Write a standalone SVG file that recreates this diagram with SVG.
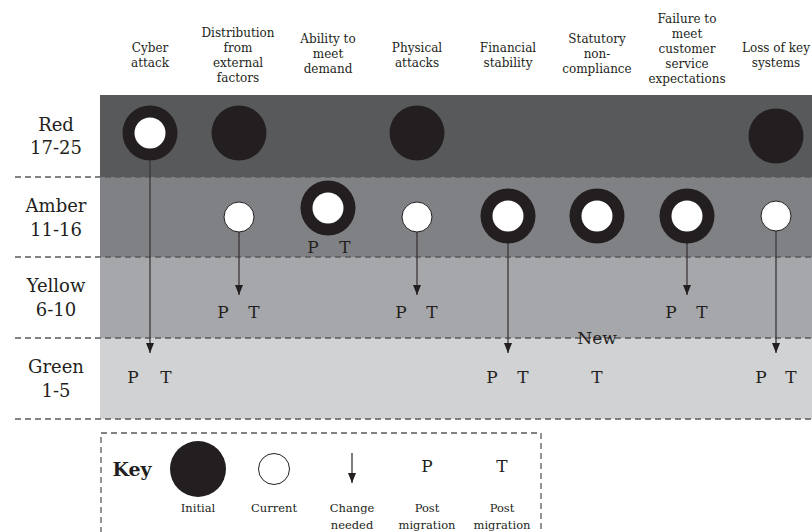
<svg xmlns="http://www.w3.org/2000/svg" width="812" height="532" viewBox="0 0 812 532">
<defs>
<style>
text{font-family:"DejaVu Serif","Liberation Serif",serif;fill:#231f20;text-anchor:middle}
.h{font-size:12px}
.row{font-size:18px}
.pt{font-size:17px}
.k{font-size:11.5px}
.dash{stroke:#58595b;stroke-width:1.3;stroke-dasharray:6 4;fill:none}
.ink{fill:#231f20}
.cur{fill:#fff;stroke:#231f20;stroke-width:1}
.hole{fill:#fff}
.conn{stroke:#3a3738;stroke-width:1.3;fill:none}
</style>
<marker id="ah" viewBox="0 0 10 8" refX="10" refY="4" markerWidth="10" markerHeight="8" markerUnits="userSpaceOnUse" orient="auto">
<path d="M0,0 L10,4 L0,8 Z" fill="#231f20"/>
</marker>
</defs>
<rect width="812" height="532" fill="#fff"/>
<g id="bands">
<rect x="100" y="95" width="712" height="82" fill="#58595b"/>
<rect x="100" y="177" width="712" height="80" fill="#808184"/>
<rect x="100" y="257" width="712" height="81" fill="#a6a7aa"/>
<rect x="100" y="338" width="712" height="81" fill="#d1d2d4"/>
<path class="dash" d="M15,177H812M15,257H812M15,338H812M15,419H812"/>
</g>
<g id="headers">
<text class="h"><tspan x="150" y="52">Cyber</tspan><tspan x="150" y="67">attack</tspan></text>
<text class="h"><tspan x="238" y="37">Distribution</tspan><tspan x="238" y="52">from</tspan><tspan x="238" y="67">external</tspan><tspan x="238" y="82">factors</tspan></text>
<text class="h"><tspan x="328" y="43">Ability to</tspan><tspan x="328" y="58">meet</tspan><tspan x="328" y="73">demand</tspan></text>
<text class="h"><tspan x="417" y="52">Physical</tspan><tspan x="417" y="67">attacks</tspan></text>
<text class="h"><tspan x="508" y="52">Financial</tspan><tspan x="508" y="67">stability</tspan></text>
<text class="h"><tspan x="597" y="43">Statutory</tspan><tspan x="597" y="58">non-</tspan><tspan x="597" y="73">compliance</tspan></text>
<text class="h"><tspan x="687" y="23">Failure to</tspan><tspan x="687" y="38">meet</tspan><tspan x="687" y="53">customer</tspan><tspan x="687" y="68">service</tspan><tspan x="687" y="83">expectations</tspan></text>
<text class="h"><tspan x="776" y="52">Loss of key</tspan><tspan x="776" y="67">systems</tspan></text>
</g>
<g id="rowlabels">
<text class="row"><tspan x="56" y="131">Red</tspan><tspan x="56" y="154">17-25</tspan></text>
<text class="row"><tspan x="56" y="212">Amber</tspan><tspan x="56" y="236">11-16</tspan></text>
<text class="row"><tspan x="56" y="292">Yellow</tspan><tspan x="56" y="316">6-10</tspan></text>
<text class="row"><tspan x="56" y="373">Green</tspan><tspan x="56" y="397">1-5</tspan></text>
</g>
<g id="connectors">
<line class="conn" x1="150" y1="161" x2="150" y2="353" marker-end="url(#ah)"/>
<line class="conn" x1="239" y1="232" x2="239" y2="295" marker-end="url(#ah)"/>
<line class="conn" x1="417" y1="232" x2="417" y2="295" marker-end="url(#ah)"/>
<line class="conn" x1="508" y1="243" x2="508" y2="353" marker-end="url(#ah)"/>
<line class="conn" x1="687" y1="243" x2="687" y2="295" marker-end="url(#ah)"/>
<line class="conn" x1="776" y1="231" x2="776" y2="353" marker-end="url(#ah)"/>
</g>
<g id="cyber-attack">
<circle class="ink" cx="150" cy="133" r="27.5"/><circle class="hole" cx="150" cy="133" r="15.5"/>
<text class="pt" x="133" y="383">P</text><text class="pt" x="166" y="383">T</text>
</g>
<g id="distribution">
<circle class="ink" cx="239" cy="133" r="27.5"/>
<circle class="cur" cx="239" cy="217" r="15"/>
<text class="pt" x="223" y="318">P</text><text class="pt" x="254" y="318">T</text>
</g>
<g id="ability">
<circle class="ink" cx="328" cy="208" r="27.5"/><circle class="hole" cx="328" cy="208" r="15.5"/>
<text class="pt" x="313" y="253">P</text><text class="pt" x="345" y="253">T</text>
</g>
<g id="physical">
<circle class="ink" cx="417" cy="133" r="27.5"/>
<circle class="cur" cx="417" cy="217" r="15"/>
<text class="pt" x="401" y="318">P</text><text class="pt" x="432" y="318">T</text>
</g>
<g id="financial">
<circle class="ink" cx="508" cy="216" r="27.5"/><circle class="hole" cx="508" cy="216" r="15.5"/>
<text class="pt" x="492" y="383">P</text><text class="pt" x="523" y="383">T</text>
</g>
<g id="statutory">
<circle class="ink" cx="597" cy="216" r="27.5"/><circle class="hole" cx="597" cy="216" r="15.5"/>
<text class="pt" x="597" y="344">New</text>
<text class="pt" x="597" y="383">T</text>
</g>
<g id="failure">
<circle class="ink" cx="687" cy="216" r="27.5"/><circle class="hole" cx="687" cy="216" r="15.5"/>
<text class="pt" x="671" y="318">P</text><text class="pt" x="702" y="318">T</text>
</g>
<g id="loss">
<circle class="ink" cx="776" cy="136" r="27.5"/>
<circle class="cur" cx="776" cy="216" r="15"/>
<text class="pt" x="761" y="383">P</text><text class="pt" x="791" y="383">T</text>
</g>
<g id="key">
<rect class="dash" x="101" y="433" width="440" height="110"/>
<text x="132" y="476" style="font-size:19px;font-weight:bold">Key</text>
<circle class="ink" cx="198" cy="469" r="28"/>
<circle class="cur" cx="274" cy="469" r="15.5"/>
<line class="conn" x1="352" y1="453" x2="352" y2="483" marker-end="url(#ah)"/>
<text class="pt" x="427" y="472">P</text>
<text class="pt" x="502" y="472">T</text>
<text class="k" x="198" y="512">Initial</text>
<text class="k" x="274" y="512">Current</text>
<text class="k"><tspan x="352" y="512">Change</tspan><tspan x="352" y="529">needed</tspan></text>
<text class="k"><tspan x="427" y="512">Post</tspan><tspan x="427" y="529">migration</tspan></text>
<text class="k"><tspan x="502" y="512">Post</tspan><tspan x="502" y="529">migration</tspan></text>
</g>
</svg>
